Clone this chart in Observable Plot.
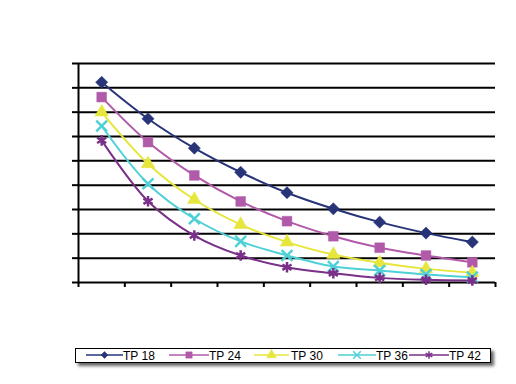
<!DOCTYPE html>
<html><head><meta charset="utf-8">
<script src="https://cdn.jsdelivr.net/npm/d3@7"></script>
<script src="https://cdn.jsdelivr.net/npm/@observablehq/plot@0.6"></script>
<style>
body{margin:0;background:#fff;font-family:"Liberation Sans",Arial,sans-serif;}
#wrap{position:relative;width:516px;height:384px;}
#legend{position:absolute;left:75px;top:348px;width:416px;height:15px;border:1.5px solid #000;box-sizing:border-box;box-shadow:3px 3px 3px #666;background:#fff;}
#legend svg{display:block}
</style></head>
<body><div id="wrap"><div id="chart"></div><div id="legend"></div></div>
<script>
const categories = [1,2,3,4,5,6,7,8,9];
const seriesNames = ["TP 18","TP 24","TP 30","TP 36","TP 42"];
const tp18 = [8.23,6.73,5.52,4.53,3.69,3.03,2.48,2.03,1.66];
const tp24 = [7.62,5.77,4.40,3.33,2.52,1.90,1.43,1.11,0.83];
const tp30 = [7.00,4.88,3.41,2.38,1.66,1.15,0.81,0.56,0.40];
const tp36 = [6.43,4.06,2.62,1.69,1.11,0.66,0.49,0.33,0.22];
const tp42 = [5.84,3.34,1.93,1.11,0.63,0.38,0.19,0.11,0.08];
const yTicks = [0,1,2,3,4,5,6,7,8,9];
const colors = ["#283478","#b15aa9","#e6e63c","#4fd0d6","#7a2f88"];
const symbols = ["diamond2","square","triangle","times","asterisk"];
const filled = [true,true,true,false,false];

const allSeries = [tp18,tp24,tp30,tp36,tp42];
const data = allSeries.flatMap((vals,si)=>vals.map((v,i)=>({x:categories[i],y:v,s:seriesNames[si],si})));

const marks = [
  Plot.ruleY(yTicks.slice(1),{stroke:"#000",strokeWidth:2}),
  Plot.ruleY([0],{stroke:"#000",strokeWidth:2}),
  Plot.ruleX([0.5],{stroke:"#000",strokeWidth:2}),
  Plot.axisY({ticks:yTicks,tickSize:6,tickFormat:()=>"",label:null,strokeWidth:2,stroke:"#000"}),
  Plot.axisX({ticks:d3.range(0.5,10,1),tickSize:5,tickFormat:()=>"",label:null,strokeWidth:2,stroke:"#000"})
];
allSeries.forEach((vals,si)=>{
  const d = data.filter(e=>e.si===si);
  marks.push(Plot.line(d,{x:"x",y:"y",stroke:colors[si],strokeWidth:2,curve:"catmull-rom"}));
  marks.push(Plot.dot(d,{x:"x",y:"y",symbol:()=>symbols[si],r:si===0?5.5:(si===1?5.5:5),
    fill:filled[si]?colors[si]:"none",stroke:colors[si],strokeWidth:filled[si]?0.5:2.5}));
});

const chart = Plot.plot({
  width:516,height:300,
  marginTop:63,marginLeft:78,marginRight:21,marginBottom:18,
  x:{domain:[0.5,9.5],axis:null},
  y:{domain:[0,9],axis:null},
  marks
});
document.getElementById("chart").appendChild(chart);

// legend
const lg = d3.select("#legend").append("svg").attr("width",413).attr("height",12);
const items = [
  {x0:10,x1:47,tx:47},{x0:93,x1:133,tx:133},{x0:178,x1:213,tx:215},{x0:262,x1:300,tx:300},{x0:333,x1:373,tx:373}
];
const symMap = {diamond2:d3.symbolDiamond2,square:d3.symbolSquare,triangle:d3.symbolTriangle,times:d3.symbolTimes,asterisk:d3.symbolAsterisk};
items.forEach((it,i)=>{
  const cy = 6;
  lg.append("line").attr("x1",it.x0).attr("x2",it.x1).attr("y1",cy).attr("y2",cy).attr("stroke",colors[i]).attr("stroke-width",1.5);
  const cx=(it.x0+it.x1)/2;
  const sym = symMap[symbols[i]];
  lg.append("path").attr("d",d3.symbol(sym,i===0?30:40)()).attr("transform",`translate(${cx},${cy})`)
    .attr("fill",filled[i]?colors[i]:"none").attr("stroke",colors[i]).attr("stroke-width",filled[i]?0.5:1.5);
  lg.append("text").attr("x",it.tx).attr("y",cy+4.5).attr("font-size",12).attr("fill","#000").text(seriesNames[i]);
});
</script></body></html>
